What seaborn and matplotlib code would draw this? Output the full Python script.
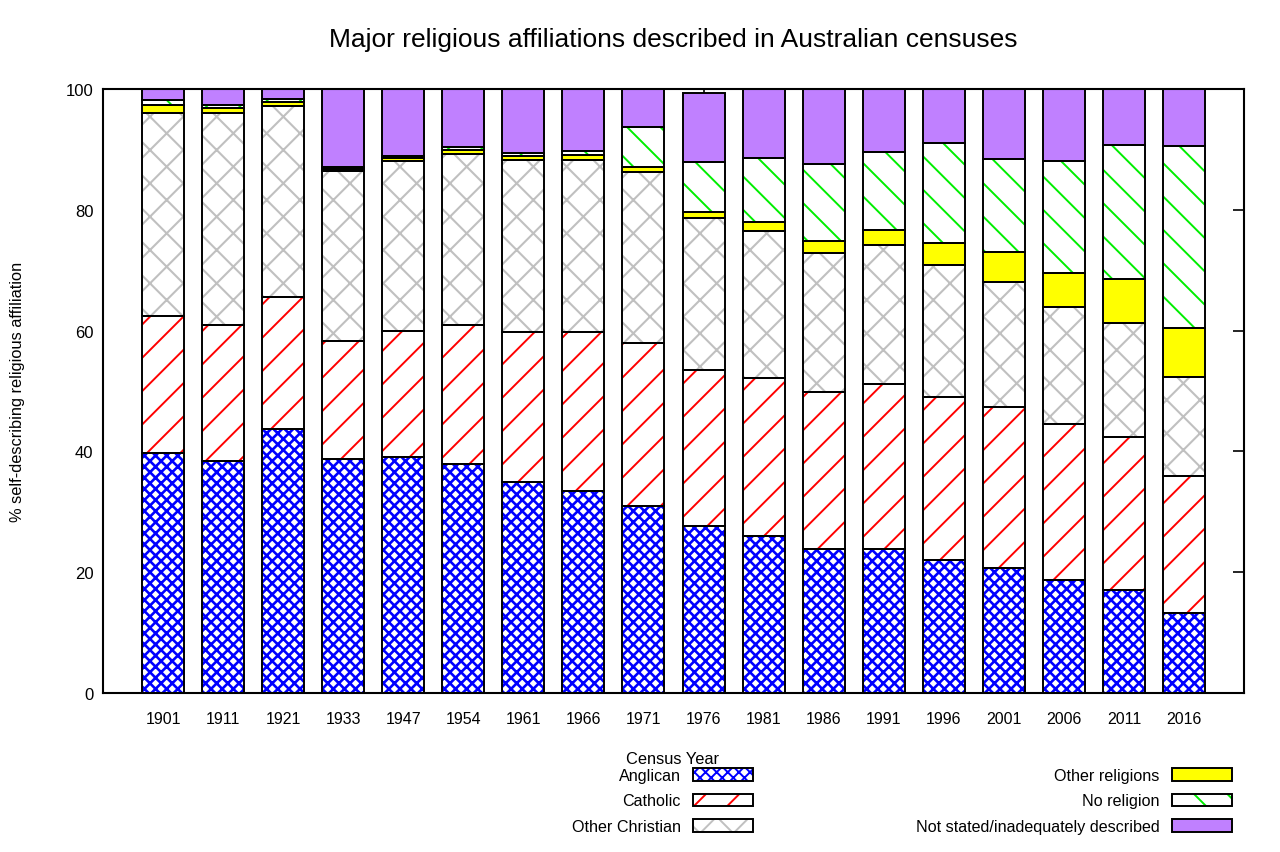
import matplotlib.pyplot as plt
import matplotlib.patches as mpatches
import numpy as np
import pandas as pd
import seaborn as sns

years = ["1901", "1911", "1921", "1933", "1947", "1954", "1961", "1966", "1971",
         "1976", "1981", "1986", "1991", "1996", "2001", "2006", "2011", "2016"]
anglican = [39.7, 38.4, 43.7, 38.7, 39.1, 37.9, 34.9, 33.5, 31.0,
            27.6, 26.0, 23.8, 23.8, 22.0, 20.7, 18.7, 17.1, 13.3]
catholic = [22.7, 22.5, 21.9, 19.6, 20.8, 23.0, 24.9, 26.2, 26.9,
            25.8, 26.1, 26.1, 27.4, 27.0, 26.6, 25.8, 25.3, 22.6]
other_christian = [33.6, 35.1, 31.6, 28.1, 28.2, 28.4, 28.4, 28.5, 28.4,
                   25.2, 24.4, 22.9, 22.9, 21.9, 20.7, 19.4, 18.8, 16.4]
other_religions = [1.4, 0.8, 0.6, 0.3, 0.4, 0.6, 0.7, 0.8, 0.8,
                   1.1, 1.5, 2.1, 2.6, 3.6, 5.0, 5.6, 7.3, 8.1]
no_religion = [0.7, 0.5, 0.5, 0.4, 0.4, 0.5, 0.5, 0.7, 6.6,
               8.2, 10.6, 12.7, 12.8, 16.5, 15.4, 18.6, 22.2, 30.1]
not_stated = [1.9, 2.7, 1.7, 12.9, 11.1, 9.6, 10.6, 10.3, 6.3,
              11.4, 11.4, 12.4, 10.5, 9.0, 11.6, 11.9, 9.3, 9.5]

labels = ["Anglican", "Catholic", "Other Christian",
          "Other religions", "No religion", "Not stated/inadequately described"]

# face colour, hatch colour, hatch, hatch width
styles = [
    ("white", "#0000ff", "xxx", 1.9),
    ("white", "#ff0000", "/", 1.4),
    ("white", "#c0c0c0", "x", 1.5),
    ("#ffff00", "#ffff00", "", 1.0),
    ("white", "#00ee00", "\\", 1.4),
    ("#c080ff", "#c080ff", "", 1.0),
]

df = pd.DataFrame({"year": years, labels[0]: anglican, labels[1]: catholic,
                   labels[2]: other_christian, labels[3]: other_religions,
                   labels[4]: no_religion, labels[5]: not_stated})

sns.set_style("white")
plt.rcParams["font.family"] = ["Liberation Sans", "DejaVu Sans"]
plt.rcParams["hatch.linewidth"] = 1.4
plt.rcParams["text.color"] = "black"
plt.rcParams["xtick.color"] = "black"
plt.rcParams["ytick.color"] = "black"

fig = plt.figure(figsize=(12.8, 8.53), dpi=100)
ax = fig.add_axes([103 / 1280, 159 / 853, 1141 / 1280, 604 / 853])

bottom = np.zeros(len(years))
handles = []
for name, (face, hcol, hatch, hlw) in zip(labels, styles):
    vals = df[name].to_numpy()
    n0 = len(ax.patches)
    sns.barplot(data=df, x="year", y=name, order=years, bottom=bottom, width=0.7,
                color=face, saturation=1, edgecolor=hcol, hatch=hatch, linewidth=0,
                errorbar=None, ax=ax, zorder=2)
    for p in ax.patches[n0:]:
        if hasattr(p, "set_hatch_linewidth"):
            p.set_hatch_linewidth(hlw)
    sns.barplot(data=df, x="year", y=name, order=years, bottom=bottom, width=0.7,
                fill=False, color="black", saturation=1, edgecolor="black", linewidth=1.4,
                errorbar=None, ax=ax, zorder=3)
    bottom = bottom + vals

    h1 = mpatches.Patch(facecolor=face, edgecolor=hcol, hatch=hatch, linewidth=0)
    if hasattr(h1, "set_hatch_linewidth"):
        h1.set_hatch_linewidth(hlw)
    h2 = mpatches.Patch(facecolor="none", edgecolor="black", linewidth=1.4)
    handles.append((h1, h2))

ax.set_xlim(-1, 18)
ax.set_ylim(0, 100)
ax.set_yticks([0, 20, 40, 60, 80, 100])
ax.set_xlabel("")
ax.set_ylabel("")
for s in ax.spines.values():
    s.set_visible(True)
    s.set_color("black")
    s.set_linewidth(1.5)
    s.set_zorder(5)
ax.tick_params(axis="y", direction="in", length=8, width=1.2, right=True,
               labelsize=12, pad=7, labelcolor="black")
ax.tick_params(axis="x", direction="in", length=5, width=1.2, top=True,
               labelsize=11.5, pad=13, labelcolor="black")

fig.text(673 / 1280, 1 - 40 / 853, "Major religious affiliations described in Australian censuses",
         ha="center", va="center", fontsize=19, color="black")
fig.text(18 / 1280, 1 - 392 / 853, "% self-describing religious affiliation",
         rotation=90, ha="center", va="center", fontsize=11.8, color="black")
fig.text(672 / 1280, 1 - 760 / 853, "Census Year", ha="center", va="center",
         fontsize=11.8, color="black")

common = dict(frameon=False, markerfirst=False, fontsize=11.6, handlelength=3.7,
              handleheight=0.8, handletextpad=0.8, labelspacing=0.65,
              borderpad=0, borderaxespad=0, loc="upper right", labelcolor="black")
fig.legend(handles[:3], labels[:3], bbox_to_anchor=(753 / 1280, 1 - 769 / 853), **common)
fig.legend(handles[3:], labels[3:], bbox_to_anchor=(1232 / 1280, 1 - 769 / 853), **common)

fig.savefig("out.png", dpi=100)
